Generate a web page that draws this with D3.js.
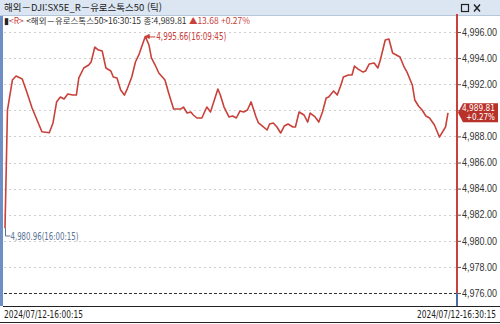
<!DOCTYPE html>
<html lang="ko">
<head>
<meta charset="UTF-8">
<title>유로스톡스50 틱</title>
<script src="https://cdn.jsdelivr.net/npm/d3@7"></script>
<style>
  body { margin: 0; background: #fff; }
  svg { display: block; font-family: "DejaVu Sans Condensed", "Noto Sans CJK KR", sans-serif; }
</style>
</head>
<body>
<script>
  // tick data (time, price)
  const times = ["16:00:15","16:00:25","16:00:45","16:01:00","16:01:25","16:01:45","16:02:05","16:02:45","16:03:15","16:03:30",
    "16:03:45","16:04:00","16:04:15","16:04:30","16:04:50","16:05:05","16:05:15","16:05:35","16:05:55","16:06:05",
    "16:06:20","16:06:35","16:06:50","16:07:05","16:07:25","16:07:35","16:07:50","16:08:05","16:08:20","16:08:30",
    "16:08:50","16:09:05","16:09:20","16:09:45","16:10:00","16:10:10","16:10:25","16:10:40","16:11:05","16:11:20",
    "16:11:40","16:12:10","16:12:20","16:12:35","16:12:50","16:13:00","16:13:15","16:13:35","16:13:55","16:14:10",
    "16:14:40","16:14:50","16:15:05","16:15:25","16:15:40","16:15:55","16:16:10","16:16:25","16:16:40","16:16:55",
    "16:17:15","16:17:25","16:17:40","16:18:00","16:18:10","16:18:25","16:18:40","16:18:55","16:19:10","16:19:25",
    "16:19:45","16:19:55","16:20:10","16:20:30","16:20:45","16:20:55","16:21:15","16:21:30","16:21:45","16:22:00",
    "16:22:10","16:22:30","16:22:45","16:23:00","16:23:10","16:23:30","16:23:45","16:23:55","16:24:10","16:24:30",
    "16:24:40","16:24:55","16:25:15","16:25:30","16:25:40","16:26:00","16:26:15","16:26:30","16:26:45","16:27:00",
    "16:27:15","16:27:30","16:27:50","16:28:00","16:28:15","16:28:30","16:28:45","16:29:00","16:29:20","16:29:40",
    "16:30:05","16:30:15"];
  const prices = [4980.96,4990.02,4992.32,4992.63,4992.40,4991.33,4990.18,4988.36,4988.28,4989.03,
    4990.66,4991.02,4990.87,4991.25,4991.17,4991.17,4992.48,4993.24,4993.47,4993.70,
    4994.85,4994.62,4994.54,4993.24,4993.01,4992.55,4992.47,4991.56,4991.17,4991.56,
    4992.55,4993.70,4994.31,4995.66,4995.00,4994.01,4993.47,4992.86,4992.32,4991.33,
    4990.10,4990.10,4990.25,4989.79,4989.87,4989.64,4989.41,4989.41,4990.25,4989.87,
    4991.63,4991.17,4990.25,4989.49,4989.56,4989.41,4989.95,4989.87,4990.02,4990.64,
    4989.49,4989.03,4988.80,4988.49,4988.95,4989.03,4988.72,4988.26,4988.80,4988.95,
    4988.72,4988.72,4989.87,4989.64,4989.10,4989.79,4989.49,4989.10,4989.87,4990.94,
    4991.02,4991.48,4991.17,4991.94,4992.55,4992.70,4992.70,4993.39,4993.16,4992.93,
    4993.01,4993.55,4993.62,4993.24,4993.85,4995.39,4995.46,4994.39,4994.24,4994.08,
    4993.39,4992.86,4991.94,4990.79,4990.33,4990.02,4989.56,4989.41,4988.87,4987.95,
    4988.72,4989.81];
  const yTicks = [4976,4978,4980,4982,4984,4986,4988,4990,4992,4994,4996];
  const dateLabels = ["2024/07/12-16:00:15","2024/07/12-16:30:15"];
  const title = "해외－DJI:SX5E_R－유로스톡스50 (틱)";
  const change = 13.68, changePct = "+0.27%";

  const W = 500, H = 324;
  const red = "#c8413a";
  const parse = d3.timeParse("%H:%M:%S");
  const data = times.map((t, i) => ({ t: parse(t), v: prices[i] }));
  const last = data[data.length - 1];
  const hi = data.reduce((a, b) => b.v > a.v ? b : a);
  const lo = data.reduce((a, b) => b.v < a.v ? b : a);
  const fmt = d3.format(",.2f");
  const hms = d3.timeFormat("%H:%M:%S");

  const svg = d3.select("body").append("svg")
    .attr("width", W)
    .attr("height", H);

  const x = d3.scaleTime()
    .domain([data[0].t, last.t])
    .range([5, 448]);
  const y = d3.scaleLinear()
    .domain([4976, 4996])
    .range([293, 32]);
  const axisX = 457;
  const by = y(last.v);

  // title bar
  svg.append("rect").attr("x", 0).attr("y", 0).attr("width", W).attr("height", 15)
    .attr("fill", "#dbe6f2");
  svg.append("line").attr("x1", 0).attr("x2", W).attr("y1", 15.5).attr("y2", 15.5)
    .attr("stroke", "#b7c7da");
  svg.append("text").attr("x", 4).attr("y", 11)
    .attr("font-size", 9.5).attr("fill", "#222")
    .attr("textLength", 158).attr("lengthAdjust", "spacingAndGlyphs")
    .style("font-family", "'Noto Sans CJK KR', sans-serif")
    .text(title);
  // window buttons
  svg.append("rect").attr("x", 461.5).attr("y", 4.5).attr("width", 7).attr("height", 7)
    .attr("fill", "none").attr("stroke", "#222").attr("stroke-width", 1.2);
  svg.append("path").attr("d", "M474,4.5 L480,11.5 M480,4.5 L474,11.5")
    .attr("stroke", "#222").attr("stroke-width", 1.4);

  // left frame bar
  svg.append("rect").attr("x", 0).attr("y", 16).attr("width", 3).attr("height", 290)
    .attr("fill", "#6d8fc6");

  // info line
  const info = svg.append("text").attr("x", 4).attr("y", 24)
    .attr("font-size", 8.5)
    .attr("textLength", 246).attr("lengthAdjust", "spacingAndGlyphs")
    .style("font-family", "'Noto Sans CJK KR', sans-serif");
  info.append("tspan").attr("fill", "#222").text("▮");
  info.append("tspan").attr("fill", red).text("<R> ");
  info.append("tspan").attr("fill", "#333").text("<해외－유로스톡스50>16:30:15 종:" + fmt(last.v) + " ");
  info.append("tspan").attr("fill", red).text("▲" + change.toFixed(2) + " " + changePct);

  // grid lines
  svg.append("g").selectAll("line")
    .data(yTicks)
    .join("line")
    .attr("x1", 4).attr("x2", axisX)
    .attr("y1", d => Math.round(y(d)) + 0.5).attr("y2", d => Math.round(y(d)) + 0.5)
    .attr("stroke", d => d === 4976 ? "#333" : "#cfcfcf")
    .attr("stroke-dasharray", d => d === 4976 ? "3,2" : "2,3");

  // price line
  const line = d3.line().x(d => x(d.t)).y(d => y(d.v));
  svg.append("path")
    .datum(data)
    .attr("d", line)
    .attr("fill", "none")
    .attr("stroke", red)
    .attr("stroke-width", 1.6)
    .attr("stroke-linejoin", "round");

  // high annotation
  svg.append("path")
    .attr("d", `M${x(hi.t)},${y(hi.v)} l4,-2 l0,4 Z M${x(hi.t)},${y(hi.v) + 0.5} h10`)
    .attr("fill", red).attr("stroke", red).attr("stroke-width", 1);
  svg.append("text")
    .attr("x", x(hi.t) + 11).attr("y", y(hi.v) + 4)
    .attr("font-size", 10).attr("fill", red)
    .attr("textLength", 70).attr("lengthAdjust", "spacingAndGlyphs")
    .text(fmt(hi.v) + "(" + hms(hi.t) + ")");

  // low annotation
  const lx = Math.round(x(lo.t)) + 0.5, ly = Math.round(y(lo.v));
  svg.append("path")
    .attr("d", `M${lx},${ly} V${ly + 8} h5`)
    .attr("fill", "none").attr("stroke", "#5a7394").attr("stroke-width", 1);
  svg.append("text")
    .attr("x", lx + 5).attr("y", ly + 12)
    .attr("font-size", 10).attr("fill", "#5a7394")
    .attr("textLength", 68).attr("lengthAdjust", "spacingAndGlyphs")
    .text(fmt(lo.v) + "(" + hms(lo.t) + ")");

  // right axis (label hidden where the last-price badge sits)
  const yAxis = d3.axisRight(y).tickValues(yTicks).tickSize(4).tickPadding(1)
    .tickFormat(d => Math.abs(y(d) - by) < 10 ? "" : fmt(d));
  const ag = svg.append("g")
    .attr("transform", `translate(${axisX},0)`)
    .call(yAxis);
  ag.select(".domain").remove();
  ag.selectAll("line").attr("stroke", "#555");
  ag.selectAll("text").filter(function() { return this.textContent !== ""; })
    .attr("font-size", 10).attr("fill", "#333")
    .attr("textLength", 35).attr("lengthAdjust", "spacingAndGlyphs");
  svg.append("line")
    .attr("x1", axisX).attr("x2", axisX).attr("y1", 14).attr("y2", 293)
    .attr("stroke", red).attr("stroke-width", 2);
  svg.append("line")
    .attr("x1", axisX).attr("x2", axisX).attr("y1", 293).attr("y2", 306)
    .attr("stroke", "#4a6aa8").attr("stroke-width", 2);

  // last price badge
  svg.append("path")
    .attr("d", `M${axisX + 1},${by} L${axisX + 6},${by - 9.5} H498 V${by + 9.5} H${axisX + 6} Z`)
    .attr("fill", "#b8322a");
  svg.append("text").attr("x", 495).attr("y", by - 1.5).attr("text-anchor", "end")
    .attr("font-size", 9).attr("fill", "#fff")
    .attr("textLength", 33).attr("lengthAdjust", "spacingAndGlyphs")
    .text(fmt(last.v));
  svg.append("text").attr("x", 495).attr("y", by + 7.5).attr("text-anchor", "end")
    .attr("font-size", 9).attr("fill", "#fff")
    .attr("textLength", 29).attr("lengthAdjust", "spacingAndGlyphs")
    .text(changePct);

  // bottom time bar
  svg.append("line").attr("x1", 3).attr("x2", W).attr("y1", 306.5).attr("y2", 306.5)
    .attr("stroke", "#222");
  svg.append("line").attr("x1", 0).attr("x2", W).attr("y1", 322.5).attr("y2", 322.5)
    .attr("stroke", "#222");
  svg.append("text").attr("x", 4).attr("y", 318)
    .attr("font-size", 10).attr("fill", "#222")
    .attr("textLength", 79).attr("lengthAdjust", "spacingAndGlyphs")
    .text(dateLabels[0]);
  svg.append("text").attr("x", 417).attr("y", 318)
    .attr("font-size", 10).attr("fill", "#222")
    .attr("textLength", 79).attr("lengthAdjust", "spacingAndGlyphs")
    .text(dateLabels[1]);
</script>
</body>
</html>
